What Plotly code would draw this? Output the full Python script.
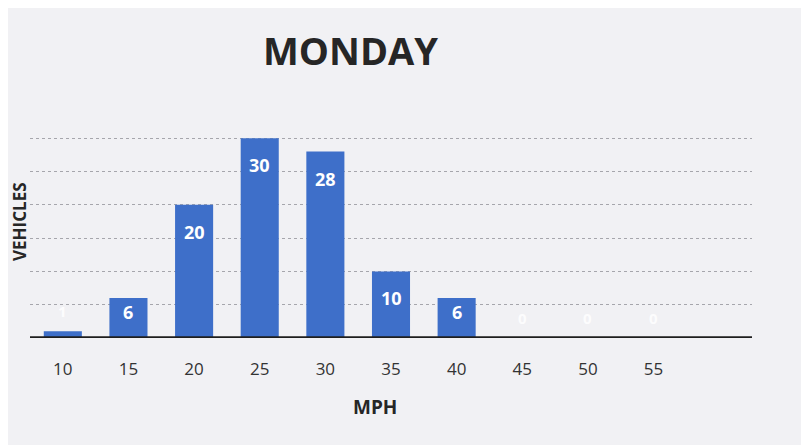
import plotly.graph_objects as go

speeds = [10, 15, 20, 25, 30, 35, 40, 45, 50, 55]
vehicles = [1, 6, 20, 30, 28, 10, 6, 0, 0, 0]
tick_labels = ["10", "15", "20", "25", "30", "35", "40", "45", "50", "55"]
title_text = "MONDAY"
x_title = "MPH"
y_title = "VEHICLES"

bar_color = "#3e6fc9"
bg = "#f1f1f4"

# page is offset by 8px body margin; compensate
OFF = 8
L, T, PW, PH = 30 - OFF, 105 - OFF, 722, 233

fig = go.Figure()
fig.add_trace(go.Bar(
    x=speeds, y=vehicles, width=2.9,
    marker=dict(color=bar_color, line=dict(width=0)),
    hoverinfo="x+y",
))

annotations = []
for s, v in zip(speeds, vehicles):
    inside = v >= 5
    shift = (-27 if v >= 10 else -14) if inside else 20
    annotations.append(dict(
        x=s, y=v, xref="x", yref="y", text="<b>%d</b>" % v, showarrow=False,
        xanchor="center", yanchor="middle", yshift=shift,
        font=dict(size=18 if inside else 15, family="Open Sans",
                  color="white" if inside else "rgba(255,255,255,0.85)"),
    ))

annotations += [
    dict(text="<b>" + title_text + "</b>", xref="paper", yref="paper",
         x=(350 - 30) / PW, y=1 + (105 - 50) / PH, xanchor="center", yanchor="middle",
         showarrow=False, font=dict(size=38, color="#262626", family="Open Sans")),
    dict(text="<b>" + x_title + "</b>", xref="paper", yref="paper",
         x=(375 - 30) / PW, y=-(407 - 338) / PH, xanchor="center", yanchor="middle",
         showarrow=False, font=dict(size=19, color="#262626", family="Open Sans")),
    dict(text="<b>" + y_title + "</b>", xref="paper", yref="paper",
         x=-(30 - 19) / PW, y=(338 - 222) / PH, xanchor="center", yanchor="middle",
         textangle=-90, showarrow=False,
         font=dict(size=17, color="#262626", family="Open Sans")),
]

fig.update_layout(
    width=809, height=445,
    margin=dict(l=L, r=809 - L - PW, t=T, b=445 - T - PH),
    paper_bgcolor=bg, plot_bgcolor=bg,
    showlegend=False,
    font=dict(family="Open Sans", color="#333333"),
    xaxis=dict(
        range=[7.5, 62.5], tickmode="array", tickvals=speeds, ticktext=tick_labels,
        showgrid=False, zeroline=False, showline=False,
        tickfont=dict(size=17, color="#333333"), ticks="", ticklen=0,
        ticklabelstandoff=19,
    ),
    yaxis=dict(
        range=[0, 35], dtick=5, showticklabels=False,
        showgrid=True, gridcolor="#a6a6ac", griddash="dot", gridwidth=1,
        zeroline=False, showline=False,
    ),
    annotations=annotations,
    shapes=[
        dict(type="line", xref="paper", yref="y", x0=0, x1=1, y0=0, y1=0,
             line=dict(color="#1e1e1e", width=3.5)),
    ],
)

fig.write_html("out.html")
